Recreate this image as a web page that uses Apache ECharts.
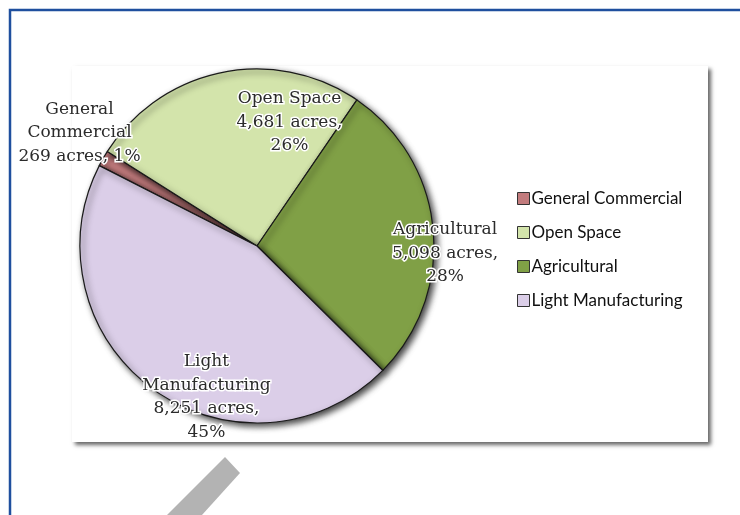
<!DOCTYPE html>
<html>
<head>
<meta charset="utf-8">
<script src="https://cdn.jsdelivr.net/npm/echarts@6/dist/echarts.min.js"></script>
<style>
  html, body { margin: 0; padding: 0; background: #fff; }
  #main { width: 740px; height: 515px; }
</style>
</head>
<body>
<div id="main"></div>
<script>
// land use, acres
const categories = ['General Commercial', 'Open Space', 'Agricultural', 'Light Manufacturing'];
const acres = [269, 4681, 5098, 8251];
const percents = ['1%', '26%', '28%', '45%'];
const labelNames = ['General\nCommercial', 'Open Space', 'Agricultural', 'Light\nManufacturing'];

const colors = ['#C27B7D', '#D3E4AB', '#80A046', '#DBCEE8'];
// label nudges away from the default inside spot
const labelOffsets = [[-98, -68], [51, -34], [97, 16], [3, 77]];

function fmt(n) {
  return n.toLocaleString('en-US');
}

const chart = echarts.init(document.getElementById('main'));

const option = {
  animation: false,
  color: colors,
  graphic: [
    {
      // outer blue frame
      type: 'rect',
      z: -10,
      shape: { x: 10, y: 10, width: 800, height: 600 },
      style: { fill: 'none', stroke: '#1F4F9E', lineWidth: 2.5 }
    },
    {
      // plot area with drop shadow
      type: 'rect',
      z: -5,
      shape: { x: 72, y: 66, width: 636, height: 376 },
      style: {
        fill: '#fff',
        shadowColor: 'rgba(0,0,0,0.6)',
        shadowBlur: 4,
        shadowOffsetX: 3,
        shadowOffsetY: 3
      }
    },
    {
      type: 'polygon',
      z: -5,
      shape: { points: [[225, 457], [240, 473], [202, 515], [167, 515]] },
      style: { fill: '#B3B3B3' }
    }
  ],
  legend: {
    orient: 'vertical',
    left: 512,
    top: 185,
    itemGap: 17,
    itemWidth: 12,
    itemHeight: 12,
    icon: 'rect',
    itemStyle: { borderColor: '#333', borderWidth: 1 },
    textStyle: { fontFamily: 'Lato', fontSize: 17, lineHeight: 17, color: '#111', padding: [0, 0, 0, -3] },
    data: categories
  },
  series: [
    {
      type: 'pie',
      center: [257, 246],
      radius: 177,
      startAngle: 153,
      clockwise: true,
      legendHoverLink: false,
      emphasis: { disabled: true },
      itemStyle: {
        borderColor: '#1a1a1a',
        borderWidth: 1.2,
        shadowColor: 'rgba(0,0,0,0.75)',
        shadowBlur: 6,
        shadowOffsetX: 3,
        shadowOffsetY: 3
      },
      labelLine: { show: false },
      label: {
        show: true,
        position: 'inside',
        fontFamily: 'DejaVu Serif',
        fontSize: 17,
        lineHeight: 23.5,
        color: '#2b2b2b',
        textBorderColor: '#fff',
        textBorderWidth: 3,
        align: 'center'
      },
      data: categories.map((name, i) => {
        let text;
        if (i === 0) {
          text = labelNames[i] + '\n' + fmt(acres[i]) + ' acres, ' + percents[i];
        } else {
          text = labelNames[i] + '\n' + fmt(acres[i]) + ' acres,\n' + percents[i];
        }
        return {
          name: name,
          value: acres[i],
          label: { formatter: text, offset: labelOffsets[i] }
        };
      })
    }
  ]
};

chart.setOption(option);
</script>
</body>
</html>
